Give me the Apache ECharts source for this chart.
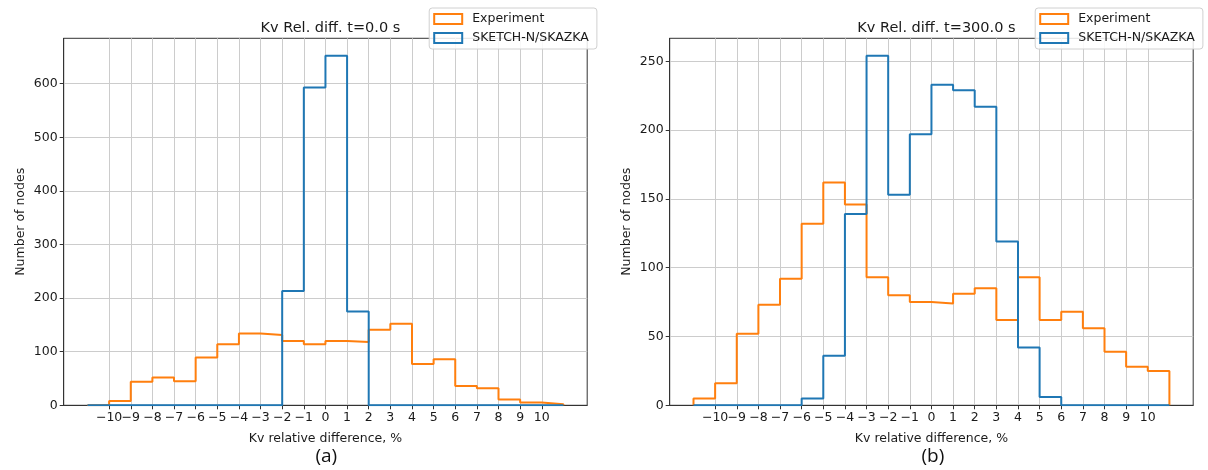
<!DOCTYPE html>
<html>
<head>
<meta charset="utf-8">
<script src="https://cdn.jsdelivr.net/npm/echarts@6/dist/echarts.min.js"></script>
<style>
html,body{margin:0;padding:0;background:#fff;}
#c{width:1208px;height:470px;}
</style>
</head>
<body>
<div id="c"></div>
<script>
// Bin edges (-11 .. 11, 1% wide) and tick labels
const binEdges = [-11,-10,-9,-8,-7,-6,-5,-4,-3,-2,-1,0,1,2,3,4,5,6,7,8,9,10,11];
const tickValues = [-10,-9,-8,-7,-6,-5,-4,-3,-2,-1,0,1,2,3,4,5,6,7,8,9,10];
const yTicksA = [0, 100, 200, 300, 400, 500, 600];
const yTicksB = [0, 50, 100, 150, 200, 250];
const seriesNames = ['Experiment', 'SKETCH-N/SKAZKA'];
const titles = ['Kv Rel. diff. t=0.0 s', 'Kv Rel. diff. t=300.0 s'];
const panelLabels = ['(a)', '(b)'];
const xAxisName = 'Kv relative difference, %';
const yAxisName = 'Number of nodes';

// (a) t = 0.0 s  — counts per bin
const expA = [0, 8, 44, 52, 45, 89, 114, 134, 131, 120, 114, 120, 118, 141, 152, 77, 86, 36, 32, 11, 5, 2];
const simA = [0, 0, 0, 0, 0, 0, 0, 0, 0, 213, 593, 652, 175, 0, 0, 0, 0, 0, 0, 0, 0, 0];
// (b) t = 300.0 s — counts per bin
const expB = [5, 16, 52, 73, 92, 132, 162, 146, 93, 80, 75, 74, 81, 85, 62, 93, 62, 68, 56, 39, 28, 25];
const simB = [0, 0, 0, 0, 0, 5, 36, 139, 254, 153, 197, 233, 229, 217, 119, 42, 6, 0, 0, 0, 0, 0];

const COLORS = ['#ff7f0e', '#1f77b4'];
const FONT = 'DejaVu Sans';
const TXT = '#1a1a1a';

function stepOutline(vals) {
  const pts = [[binEdges[0], 0]];
  vals.forEach((v, i) => { pts.push([binEdges[i], v]); pts.push([binEdges[i + 1], v]); });
  pts.push([binEdges[binEdges.length - 1], 0]);
  return pts;
}
const lo = binEdges[0], hi = binEdges[binEdges.length - 1];
const pad = (hi - lo) * 0.05;
const minus = v => String(v).replace('-', '\u2212');
// labels split over two axes so that the tightly packed "−10" and "−9" both stay visible
const labelsMain = tickValues.filter((v, i) => i % 2 === 1);
const labelsAux = tickValues.filter((v, i) => i % 2 === 0);

const panels = [
  {exp: expA, sim: simA, left: 63.7, yTicks: yTicksA},
  {exp: expB, sim: simB, left: 669.7, yTicks: yTicksB}
];
const GRID_W = 523.5, GRID_TOP = 38.3, GRID_H = 367;
const labelStyle = {fontFamily: FONT, fontSize: 12.5, color: TXT, margin: 6, hideOverlap: false,
  showMinLabel: true, showMaxLabel: true, formatter: v => minus(v)};

const grids = [], xAxes = [], yAxes = [], series = [], titleArr = [], legends = [], graphics = [];
panels.forEach((p, k) => {
  grids.push({left: p.left, top: GRID_TOP, width: GRID_W, height: GRID_H, show: true,
    borderColor: '#333', borderWidth: 1, backgroundColor: 'transparent'});
  xAxes.push({
    type: 'value', gridIndex: k, min: lo - pad, max: hi + pad,
    name: xAxisName, nameLocation: 'middle', nameGap: 27,
    nameTextStyle: {fontFamily: FONT, fontSize: 12.5, color: TXT},
    axisLine: {show: true, onZero: false, lineStyle: {color: '#333', width: 1}},
    axisTick: {show: true, length: 4, customValues: tickValues, lineStyle: {color: '#333'}},
    axisLabel: Object.assign({customValues: labelsMain}, labelStyle),
    splitLine: {show: true, lineStyle: {color: '#cccccc', width: 1}}
  });
  xAxes.push({
    type: 'value', gridIndex: k, min: lo - pad, max: hi + pad, position: 'bottom',
    axisLine: {show: false, onZero: false},
    axisTick: {show: false, customValues: labelsAux},
    axisLabel: Object.assign({customValues: labelsAux}, labelStyle),
    splitLine: {show: false}
  });
  const ymax = Math.max(...p.exp, ...p.sim) * 1.05;
  yAxes.push({
    type: 'value', gridIndex: k, min: 0, max: ymax,
    name: yAxisName, nameLocation: 'middle', nameGap: 36,
    nameTextStyle: {fontFamily: FONT, fontSize: 12.5, color: TXT},
    axisLine: {show: true, onZero: false, lineStyle: {color: '#333', width: 1}},
    axisTick: {show: true, length: 4, customValues: p.yTicks, lineStyle: {color: '#333'}},
    axisLabel: {customValues: p.yTicks, fontFamily: FONT, fontSize: 12.5, color: TXT, margin: 6,
      hideOverlap: false},
    splitLine: {show: true, lineStyle: {color: '#cccccc', width: 1}}
  });
  [p.exp, p.sim].forEach((vals, j) => {
    series.push({
      name: seriesNames[j], type: 'line', xAxisIndex: 2 * k, yAxisIndex: k,
      data: stepOutline(vals), showSymbol: false, symbol: 'none', animation: false,
      lineStyle: {color: COLORS[j], width: 2}, itemStyle: {color: COLORS[j]}, z: 3 + j
    });
  });
  titleArr.push({text: titles[k], left: p.left + GRID_W / 2, textAlign: 'center', top: 16,
    textStyle: {fontFamily: FONT, fontSize: 14.5, fontWeight: 'normal', color: TXT}});
  legends.push({
    orient: 'vertical', left: p.left + 365.5, top: 8,
    padding: [4, 8, 4, 4], itemGap: 5, itemWidth: 28, itemHeight: 10,
    backgroundColor: 'rgba(255,255,255,0.85)', borderColor: '#d0d0d0', borderWidth: 1, borderRadius: 3,
    textStyle: {fontFamily: FONT, fontSize: 12.5, color: TXT, lineHeight: 14, padding: [0, 0, 0, 5]},
    selectedMode: false,
    data: seriesNames.map((n, j) => ({name: n, icon: 'rect',
      itemStyle: {color: 'transparent', borderColor: COLORS[j], borderWidth: 2}}))
  });
  graphics.push({type: 'text', left: p.left + GRID_W / 2 - 10, top: 447,
    style: {text: panelLabels[k], font: '19px "Open Sans"', fill: '#111'}});
});

const chart = echarts.init(document.getElementById('c'), null, {renderer: 'canvas'});
chart.setOption({
  animation: false,
  backgroundColor: '#fff',
  title: titleArr, legend: legends, grid: grids, xAxis: xAxes, yAxis: yAxes,
  series: series, graphic: graphics
});
</script>
</body>
</html>
